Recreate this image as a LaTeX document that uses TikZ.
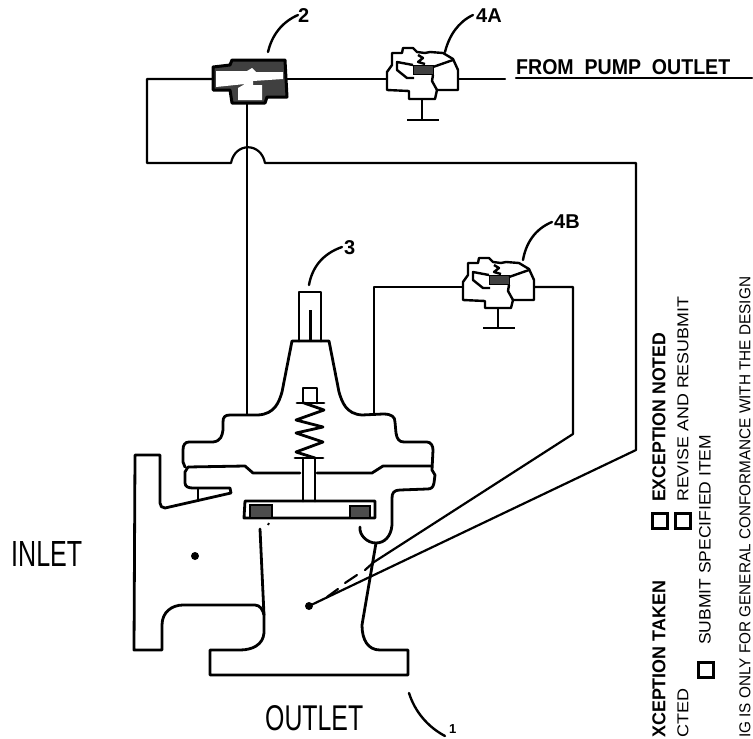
\documentclass[tikz,border=0pt]{standalone}
\usepackage{fontspec}
\usepackage{graphicx}
\setmainfont{Liberation Sans}
\usetikzlibrary{calc}
\tikzset{
 pipe/.style={line width=2.2pt,line join=round,line cap=round},
 thick line/.style={line width=2.8pt,line join=round,line cap=round},
 valve/.style={line width=2.4pt,line join=round},
 pad/.style={fill=black!70,draw=black,line width=1.6pt},
 leader/.style={line width=2.4pt,line cap=round},
 lab/.style={inner sep=0pt,font=\bfseries\fontsize{20}{20}\selectfont},
 cad/.style={inner sep=0pt},
 stamp/.style={inner sep=0pt,rotate=90,anchor=west},
 box/.style={draw,line width=2.4pt,minimum size=15pt,inner sep=0pt},
 blob/.style={circle,fill=black,inner sep=0pt,minimum size=8pt},
}
\begin{document}
\begin{tikzpicture}[x=1pt,y=-1pt]
\useasboundingbox (0,0) rectangle (753,739);
% ---------- named coordinates
\coordinate (v2l) at (213,79); \coordinate (v2r) at (287,79); \coordinate (v2b) at (247,103);
\coordinate (a4l) at (387,79); \coordinate (a4r) at (458,79);
\coordinate (pl1) at (147,79); \coordinate (pl2) at (147,163); \coordinate (h1) at (231,163);
\coordinate (h2) at (265,163); \coordinate (pr1) at (636,163); \coordinate (pr2) at (636,450);
\node[blob] (dot) at (309,606) {};
\node[blob] (inletdot) at (195,556) {};
\coordinate (tb) at (247,414);
\coordinate (c1) at (374,414); \coordinate (c2) at (374,287); \coordinate (b4l) at (463,287);
\coordinate (b4r) at (532,287); \coordinate (c3) at (573,287); \coordinate (c4) at (573,434);
\coordinate (uppermeet) at (374,562);
% ---------- pipes
\draw[pipe] (v2l) -- (pl1) -- (pl2) -- (h1) .. controls (235,142) and (261,142) .. (h2) -- (pr1) -- (pr2) -- (dot);
\draw[pipe] (v2b) -- (tb);
\draw[pipe] (v2r) -- (a4l);
\draw[pipe] (a4r) -- (505,79);
\draw[pipe] (516,78) -- (752,78);
\draw[pipe] (c1) -- (c2) -- (b4l);
\draw[pipe] (b4r) -- (c3) -- (c4) -- (uppermeet);
\draw[pipe] (327,597) -- (338,589);
\draw[pipe] (345,583) -- (357,575);
\draw[pipe] (365,570) -- (uppermeet);
% ---------- valve 2
\fill[black!75] (213,67) -- (230,65) -- (232,60) -- (285,60) -- (287,97) -- (267,97) -- (265,103) -- (232,103) -- (230,90) -- (213,90) -- cycle;
\draw[line width=3pt,line join=round] (213,67) -- (230,65) -- (232,60) -- (285,60) -- (287,97) -- (267,97) -- (265,103) -- (232,103) -- (230,90) -- (213,90) -- cycle;
\fill[white] (216,71) -- (247,71) -- (252,68) -- (256,72) -- (283,72) -- (283,79) -- (253,81) -- (253,85) -- (262,85) -- (262,100) -- (238,100) -- (238,88) -- (245,84) -- (216,87) -- cycle;
% ---------- relief valve 4A
\draw[valve,fill=white] (387,90) -- (387,72) -- (392,65) -- (392,53) -- (402,53) -- (403,48) -- (413,48) -- (417,52) -- (425,53) -- (430,52) -- (443,53) -- (453,59) -- (458,70) -- (458,90) -- (437,90) -- (435,99) -- (409,99) -- (409,91) -- cycle;
\fill[black!75,draw=black] (413,65) rectangle (433,74);
\draw[valve] (413,65) -- (397,62) -- (397,70) -- (407,78) -- (414,78);
\draw[valve] (433,67) -- (453,60);
\draw[valve] (418,55) -- (423,58) -- (418,62) -- (425,64);
\draw[valve] (433,75) -- (432,81) -- (437,90);
\draw[valve] (422,99) -- (422,120);
\draw[valve] (407,120) -- (439,120);
% ---------- relief valve 4B
\begin{scope}[shift={(76,210)}]
\draw[valve,fill=white] (387,90) -- (387,72) -- (392,65) -- (392,53) -- (402,53) -- (403,48) -- (413,48) -- (417,52) -- (425,53) -- (430,52) -- (443,53) -- (453,59) -- (458,70) -- (458,90) -- (437,90) -- (435,98) -- (409,98) -- (409,91) -- cycle;
\fill[black!75,draw=black] (413,65) rectangle (433,74);
\draw[valve] (413,65) -- (397,62) -- (397,70) -- (407,78) -- (414,78);
\draw[valve] (433,67) -- (453,60);
\draw[valve] (418,55) -- (423,58) -- (418,62) -- (425,64);
\draw[valve] (433,75) -- (432,81) -- (437,90);
\draw[valve] (422,98) -- (422,118);
\draw[valve] (407,118) -- (439,118);
\end{scope}
% ---------- main valve: bonnet and diaphragm
\draw[thick line] (185,467) -- (183,462) -- (183,450) .. controls (183,445) and (185,442) .. (189,442) -- (213,442) .. controls (221,441) and (222,436) .. (223,430) -- (223,422) .. controls (223,417) and (225,415) .. (230,415) -- (247,415) -- (258,415) .. controls (275,414) and (279,402) .. (282,392) -- (292,341) -- (329,341) -- (339,392) .. controls (342,402) and (346,414) .. (362,415) -- (383,414) .. controls (392,414) and (395,417) .. (395,422) -- (396,433) .. controls (397,439) and (399,442) .. (404,442) -- (427,442) .. controls (431,442) and (433,446) .. (433,450) -- (432,470) -- (435,475) -- (434,483) .. controls (433,488) and (431,489) .. (427,489) -- (400,490) .. controls (394,490) and (392,493) .. (392,498) -- (392,525) .. controls (391,537) and (384,543) .. (376,543) .. controls (367,543) and (359,535) .. (360,527);
\draw[thick line] (299,341) -- (299,292) -- (321,292) -- (321,341);
\draw[line width=3pt] (310,310) -- (310,341);
\draw[thick line] (188,467) -- (245,466) -- (253,473) -- (300,473);
\draw[thick line] (317,473) -- (372,473) -- (383,466) -- (432,466);
% lower body
\draw[thick line] (188,467) -- (185,472) -- (185,483) .. controls (185,487) and (189,488) .. (193,488) -- (230,488) -- (231,493) -- (165,508) .. controls (162,508) and (160,506) .. (160,503) -- (160,455) -- (135,455) -- (134,650) -- (162,650) -- (162,625) .. controls (162,612) and (172,605) .. (183,605) -- (255,605) .. controls (260,605) and (263,610) .. (264,615) -- (264,633) .. controls (263,645) and (252,650) .. (240,650) -- (210,650) -- (210,675) -- (408,675) -- (408,650) -- (380,650) .. controls (368,650) and (362,640) .. (362,625) -- (376,543);
\draw[thick line] (260,529) -- (264,615);
\draw[line width=2pt] (268,525) -- (269,523);
\draw[thick line] (198,489) -- (198,499);
% stem and disc
\draw[thick line] (303,458) -- (303,501);
\draw[thick line] (315,458) -- (315,501);
\draw[thick line] (245,501) -- (375,501) -- (375,518) -- (244,518) -- cycle;
\draw[pad] (250,505) rectangle (272,518);
\draw[pad] (350,506) rectangle (370,518);
% spring
\draw[thick line] (297,403) -- (324,403);
\draw[thick line] (303,403) -- (303,388) -- (317,388) -- (317,403);
\draw[thick line] (304,403) -- (324,410) -- (296,420) -- (323,427) -- (296,433) -- (323,442) -- (296,452) -- (315,458);
\draw[thick line] (295,458) -- (323,458);
% ---------- leaders
\draw[leader] (268,52) .. controls (272,35) and (282,22) .. (298,15);
\draw[leader] (445,52) .. controls (449,36) and (458,22) .. (473,15);
\draw[leader] (523,260) .. controls (526,243) and (535,229) .. (552,222);
\draw[leader] (309,285) .. controls (312,268) and (322,254) .. (342,247);
\draw[leader] (409,693) .. controls (415,712) and (428,727) .. (445,736);
% ---------- labels
\node[lab,anchor=west] (l2) at (298,16) {2};
\node[lab,anchor=west] (l4a) at (476,16) {4A};
\node[lab,anchor=west] (l4b) at (554,222) {4B};
\node[lab,anchor=west] (l3) at (344,248) {3};
\node[lab,anchor=south west,font=\bfseries\fontsize{13}{13}\selectfont] (l1) at (449,734) {1};
\node[cad,anchor=south west] (from) at (516,75) {\resizebox{214pt}{15pt}{\bfseries FROM\ \ PUMP\ \ OUTLET}};
\node[cad,anchor=south west] (inlet) at (11,567) {\resizebox{71pt}{25pt}{INLET}};
\node[cad,anchor=south west] (outlet) at (265,731) {\resizebox{98pt}{25pt}{OUTLET}};
% ---------- stamp
\node[box] (b1) at (660,521) {};
\node[box] (b2) at (683,521) {};
\node[box] (b3) at (706,670) {};
\node[stamp] (t1) at (659,502) {\resizebox{169pt}{13pt}{\bfseries EXCEPTION NOTED}};
\node[stamp] (t2) at (683,502) {\resizebox{205pt}{11pt}{REVISE AND RESUBMIT}};
\node[stamp] (t3) at (705,645) {\resizebox{210pt}{11.5pt}{SUBMIT SPECIFIED ITEM}};
\node[stamp] (t4) at (659,738) {\resizebox{157pt}{13pt}{\bfseries XCEPTION TAKEN}};
\node[stamp] (t5) at (683,738) {\resizebox{49pt}{11pt}{CTED}};
\node[stamp] (t6) at (745,738) {\resizebox{461pt}{11pt}{IG IS ONLY FOR GENERAL CONFORMANCE WITH THE DESIGN}};
\end{tikzpicture}
\end{document}
